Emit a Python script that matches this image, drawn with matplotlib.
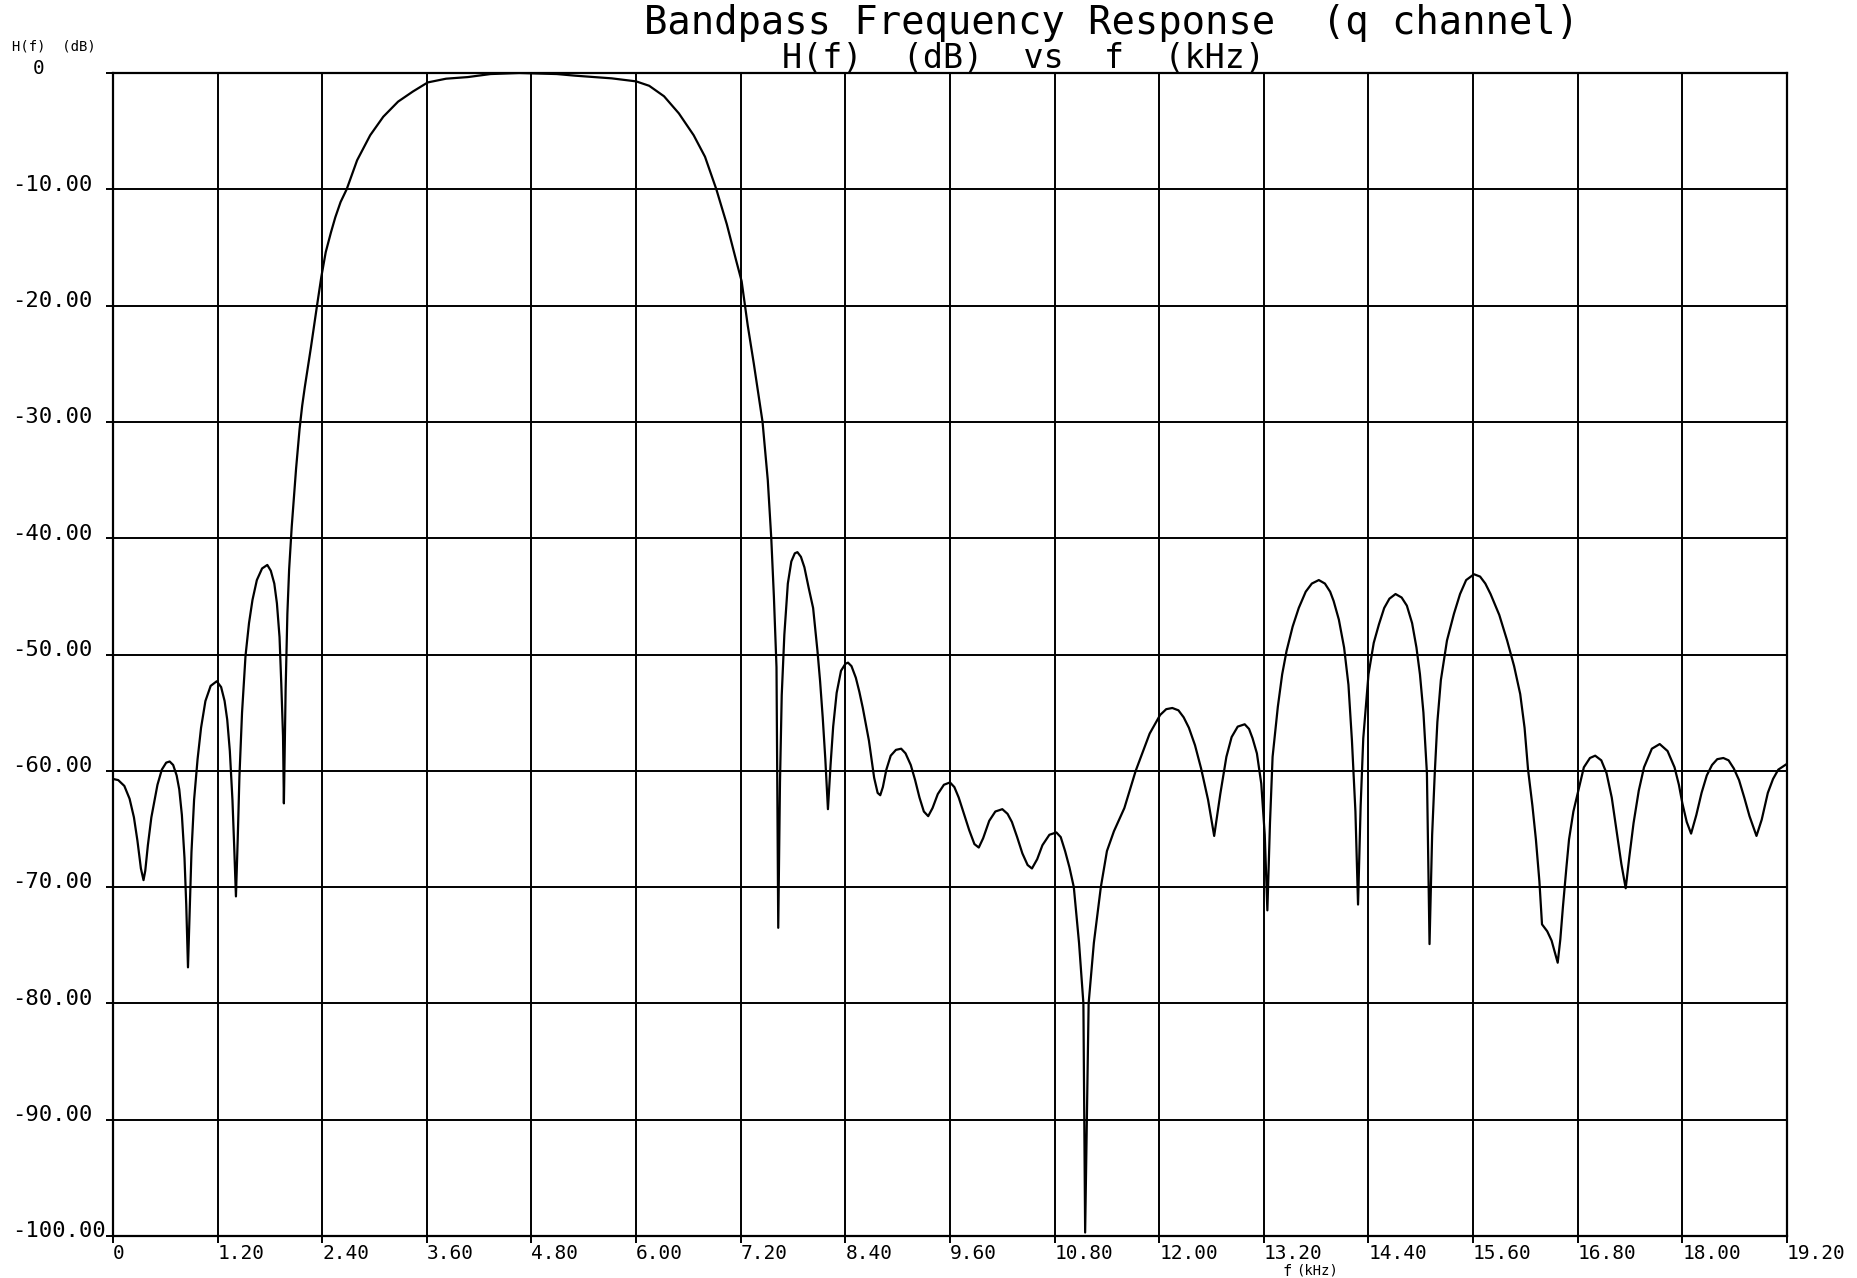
import numpy as np
import matplotlib
matplotlib.use("Agg")
import matplotlib.pyplot as plt
from matplotlib.transforms import blended_transform_factory

# frequency (kHz) and magnitude H(f) (dB)
freq_khz = [
    0.00, 0.06, 0.13, 0.19, 0.24, 0.28, 0.32, 0.35, 0.37, 0.40,
    0.44, 0.51, 0.56, 0.61, 0.65, 0.69, 0.73, 0.76, 0.79, 0.82,
    0.84, 0.86, 0.88, 0.90, 0.93, 0.97, 1.01, 1.06, 1.12, 1.19,
    1.24, 1.28, 1.31, 1.34, 1.37, 1.39, 1.41, 1.43, 1.45, 1.48,
    1.52, 1.56, 1.60, 1.65, 1.71, 1.77, 1.81, 1.85, 1.88, 1.91,
    1.93, 1.95, 1.96, 1.98, 2.00, 2.02, 2.05, 2.10, 2.14, 2.17, 2.20,
    2.27, 2.34, 2.39, 2.44, 2.50, 2.55, 2.61, 2.68, 2.80, 2.95,
    3.10, 3.27, 3.44, 3.61, 3.82, 4.07, 4.33, 4.66, 5.09, 5.30,
    5.72, 6.00, 6.15, 6.32, 6.49, 6.66, 6.79, 6.92, 7.04, 7.15,
    7.21, 7.28, 7.35, 7.45, 7.51, 7.55, 7.58, 7.61, 7.63, 7.65,
    7.67, 7.70, 7.74, 7.78, 7.82, 7.85, 7.89, 7.93, 7.98, 8.03,
    8.08, 8.11, 8.14, 8.17, 8.20, 8.23, 8.26, 8.30, 8.35, 8.40,
    8.43, 8.47, 8.52, 8.56, 8.60, 8.67, 8.73, 8.77, 8.80, 8.83,
    8.87, 8.92, 8.98, 9.04, 9.09, 9.15, 9.20, 9.25, 9.30, 9.35,
    9.40, 9.46, 9.53, 9.60, 9.65, 9.70, 9.76, 9.82, 9.88, 9.93,
    9.98, 10.05, 10.12, 10.20, 10.26, 10.31, 10.37, 10.43, 10.49, 10.54,
    10.60, 10.66, 10.74, 10.82, 10.87, 10.92, 10.97, 11.02, 11.08, 11.13,
    11.14, 11.15, 11.17, 11.19, 11.25, 11.33, 11.40, 11.48, 11.60, 11.73,
    11.89, 12.01, 12.08, 12.15, 12.22, 12.28, 12.34, 12.41, 12.48, 12.56,
    12.63, 12.70, 12.77, 12.83, 12.90, 12.98, 13.03, 13.07, 13.12, 13.17,
    13.21, 13.24, 13.27, 13.30, 13.36, 13.41, 13.46, 13.53, 13.60, 13.68,
    13.75, 13.83, 13.90, 13.96, 14.00, 14.06, 14.12, 14.17, 14.21, 14.25,
    14.28, 14.31, 14.34, 14.40, 14.46, 14.52, 14.58, 14.64, 14.71, 14.78,
    14.84, 14.90, 14.95, 14.99, 15.03, 15.07, 15.10, 15.13, 15.16, 15.19,
    15.23, 15.30, 15.38, 15.45, 15.52, 15.61, 15.68, 15.74, 15.80, 15.90,
    15.99, 16.07, 16.14, 16.19, 16.23, 16.28, 16.32, 16.36, 16.39, 16.45,
    16.50, 16.54, 16.57, 16.60, 16.63, 16.67, 16.70, 16.75, 16.80, 16.87,
    16.94, 17.00, 17.07, 17.13, 17.19, 17.25, 17.30, 17.35, 17.39, 17.44,
    17.50, 17.56, 17.65, 17.74, 17.83, 17.91, 17.96, 18.00, 18.05, 18.10,
    18.16, 18.22, 18.28, 18.34, 18.40, 18.47, 18.53, 18.59, 18.65, 18.71,
    18.77, 18.85, 18.91, 18.98, 19.04, 19.10, 19.20,
]
h_db = [
    -60.7, -60.8, -61.3, -62.4, -64.0, -66.0, -68.4, -69.4, -68.6, -66.4,
    -64.0, -61.2, -59.9, -59.3, -59.2, -59.5, -60.4, -61.6, -63.8, -67.5,
    -71.5, -76.9, -72.0, -67.0, -62.5, -59.0, -56.3, -54.0, -52.7, -52.3,
    -52.8, -54.0, -55.6, -58.3, -62.5, -66.5, -70.8, -66.0, -60.5, -55.0,
    -50.1, -47.3, -45.3, -43.6, -42.6, -42.3, -42.8, -43.9, -45.6, -48.5,
    -52.5, -57.0, -62.8, -53.0, -46.5, -42.7, -39.0, -34.0, -30.6, -28.6, -27.0,
    -23.6, -20.0, -17.5, -15.4, -13.7, -12.4, -11.1, -10.0, -7.5, -5.35,
    -3.76, -2.46, -1.59, -0.81, -0.49, -0.35, -0.09, 0.0, -0.09, -0.23,
    -0.46, -0.72, -1.1, -2.0, -3.47, -5.35, -7.2, -10.0, -13.0, -16.2,
    -17.9, -21.7, -25.0, -30.0, -35.0, -40.0, -45.0, -51.1, -73.5, -61.0,
    -53.5, -48.3, -43.9, -42.0, -41.3, -41.2, -41.6, -42.5, -44.3, -46.0,
    -49.7, -52.3, -55.4, -59.0, -63.3, -59.5, -56.2, -53.3, -51.4, -50.8,
    -50.7, -51.0, -52.0, -53.2, -54.6, -57.4, -60.6, -61.9, -62.1, -61.4,
    -59.9, -58.7, -58.2, -58.1, -58.5, -59.5, -60.8, -62.3, -63.5, -63.9,
    -63.2, -62.0, -61.2, -61.0, -61.4, -62.3, -63.7, -65.1, -66.3, -66.6,
    -65.8, -64.3, -63.5, -63.3, -63.7, -64.4, -65.7, -67.1, -68.1, -68.4,
    -67.6, -66.4, -65.5, -65.3, -65.7, -66.9, -68.3, -70.0, -74.8, -80.0,
    -90.0, -99.7, -90.0, -80.0, -74.8, -70.0, -66.9, -65.2, -63.2, -60.0,
    -56.8, -55.2, -54.7, -54.6, -54.8, -55.4, -56.3, -57.8, -59.8, -62.5,
    -65.6, -62.0, -58.8, -57.1, -56.2, -56.0, -56.4, -57.2, -58.5, -61.1,
    -65.5, -72.0, -64.5, -58.8, -54.5, -51.7, -49.7, -47.6, -46.0, -44.6,
    -43.9, -43.6, -43.9, -44.6, -45.4, -47.0, -49.4, -52.6, -57.4, -63.5,
    -71.5, -63.0, -57.2, -51.7, -49.0, -47.4, -46.0, -45.2, -44.8, -45.1,
    -45.8, -47.3, -49.4, -51.7, -55.0, -60.2, -74.9, -65.5, -60.2, -55.8,
    -52.2, -48.8, -46.5, -44.8, -43.6, -43.1, -43.3, -43.9, -44.8, -46.6,
    -48.8, -51.0, -53.4, -56.3, -59.9, -63.0, -65.9, -69.5, -73.2, -73.8,
    -74.6, -75.7, -76.5, -74.5, -71.7, -68.3, -65.9, -63.5, -61.9, -59.7,
    -58.9, -58.7, -59.1, -60.2, -62.3, -65.4, -68.0, -70.1, -67.5, -64.5,
    -61.7, -59.7, -58.1, -57.7, -58.3, -59.7, -61.2, -62.8, -64.4, -65.4,
    -63.8, -61.9, -60.4, -59.5, -59.0, -58.9, -59.1, -59.8, -60.8, -62.3,
    -63.9, -65.6, -64.2, -61.9, -60.7, -59.9, -59.4,
]

x_ticks = [0, 1.2, 2.4, 3.6, 4.8, 6.0, 7.2, 8.4, 9.6, 10.8, 12.0, 13.2,
           14.4, 15.6, 16.8, 18.0, 19.2]
x_labels = ["0", "1.20", "2.40", "3.60", "4.80", "6.00", "7.20", "8.40",
            "9.60", "10.80", "12.00", "13.20", "14.40", "15.60", "16.80",
            "18.00", "19.20"]
y_ticks = [0, -10, -20, -30, -40, -50, -60, -70, -80, -90, -100]
y_labels = ["0", "-10.00", "-20.00", "-30.00", "-40.00", "-50.00", "-60.00",
            "-70.00", "-80.00", "-90.00", "-100.00"]

MONO = "DejaVu Sans Mono"
W, H = 1858, 1278

fig = plt.figure(figsize=(W / 100, H / 100), dpi=100)
ax = fig.add_axes([113 / W, 1 - 1236 / H, (1787 - 113) / W, (1236 - 73) / H])

ax.plot(freq_khz, h_db, color="black", lw=1.6,
        solid_joinstyle="round", solid_capstyle="round")

ax.set_xlim(0, 19.2)
ax.set_ylim(-100, 0)
ax.set_xticks(x_ticks)
ax.set_xticklabels(x_labels, fontfamily=MONO, fontsize=14, ha="left")
ax.set_yticks(y_ticks)
ax.set_yticklabels([])
ax.grid(True, color="black", lw=1.4)
ax.tick_params(axis="both", direction="out", length=5, width=1.4, color="black")
ax.tick_params(axis="x", pad=1)
for s in ax.spines.values():
    s.set_color("black")
    s.set_linewidth(1.6)

# y labels: left aligned at the page edge, as the plotter wrote them
trans = blended_transform_factory(fig.transFigure, ax.transData)
for yv, lab in zip(y_ticks[1:], y_labels[1:]):
    ax.text(12 / W, yv + 0.4, lab, transform=trans, ha="left", va="center",
            fontfamily=MONO, fontsize=16)
fig.text(33 / W, 1 - 68 / H, y_labels[0], ha="left", va="center",
         fontfamily=MONO, fontsize=14)
fig.text(12 / W, 1 - 47 / H, "H(f)  (dB)", ha="left", va="center",
         fontfamily=MONO, fontsize=10)

# titles
fig.text(1112 / W, 1 - 34 / H, "Bandpass Frequency Response  (q channel)",
         ha="center", va="baseline", fontfamily=MONO, fontsize=28)
fig.text(1024 / W, 1 - 68 / H, "H(f)  (dB)  vs  f  (kHz)",
         ha="center", va="baseline", fontfamily=MONO, fontsize=24)

# x axis label tucked under the 13.20 / 14.40 ticks
fig.text(1283 / W, 1 - 1271 / H, "f", ha="left", va="center",
         fontfamily=MONO, fontsize=11)
fig.text(1296 / W, 1 - 1270 / H, "(kHz)", ha="left", va="center",
         fontfamily=MONO, fontsize=10)

fig.savefig("out.png", dpi=100, facecolor="white")
